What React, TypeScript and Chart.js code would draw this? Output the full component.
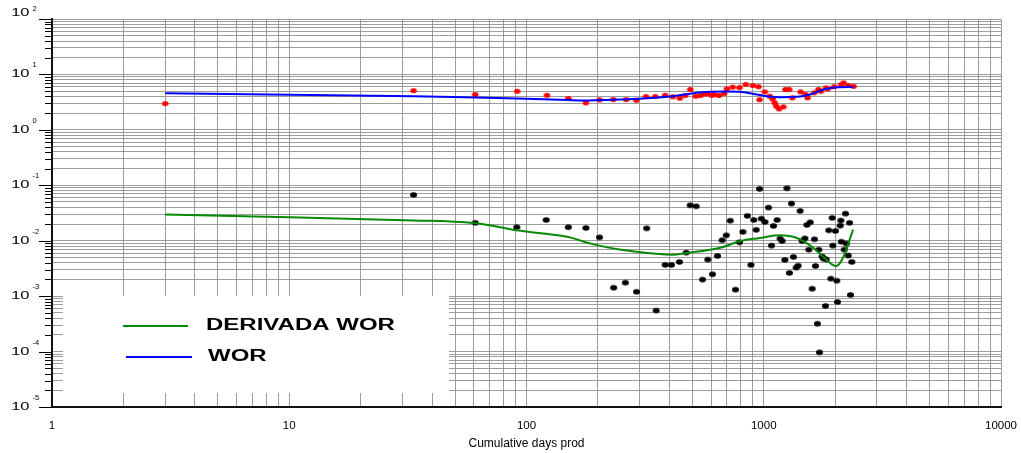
import { useEffect, useRef } from 'react';
import { Chart, registerables } from 'chart.js';

Chart.register(...registerables);

// WOR fitted curve (blue)
const worLineDays = [3, 33.4, 91, 150, 180, 300, 403, 490, 594, 790, 900, 1030, 1172, 1423, 1569, 1785, 2031, 2390];
const worLineValues = [4.58, 4.04, 3.67, 3.45, 3.4, 3.65, 4.0, 4.5, 4.85, 4.85, 4.47, 4.04, 3.88, 3.99, 4.34, 5.34, 5.87, 5.97];

// WOR measured points (red)
const worPointDays = [3, 33.4, 60.8, 91.4, 122, 150, 178, 203, 232, 263, 290, 319, 349, 384, 414, 443, 467, 490, 517, 542, 557, 579, 603, 617, 647, 680, 700, 740, 790, 840, 900, 950, 960, 1010, 1060, 1090, 1112, 1130, 1160, 1210, 1235, 1280, 1320, 1430, 1500, 1530, 1630, 1700, 1740, 1830, 1860, 1980, 2120, 2170, 2270, 2390];
const worPointValues = [2.98, 5.1, 4.34, 4.97, 4.2, 3.67, 3.07, 3.48, 3.52, 3.52, 3.42, 3.99, 3.99, 4.21, 3.95, 3.72, 4.16, 5.34, 4.04, 4.16, 4.46, 4.46, 4.21, 4.33, 4.16, 4.5, 5.5, 5.9, 5.8, 6.6, 6.3, 6.0, 3.5, 4.85, 4.04, 3.6, 3.07, 2.67, 2.39, 2.6, 5.34, 5.34, 3.78, 4.85, 4.34, 3.78, 4.65, 5.34, 4.97, 5.72, 5.5, 6.0, 6.55, 7.05, 6.3, 6.1];

// Derivative of WOR, smoothed curve (green)
const derivLineDays = [3, 33.4, 60.8, 91, 121, 150, 186, 250, 403, 473, 650, 794, 966, 1172, 1380, 1620, 1830, 2024, 2170, 2290, 2380];
const derivLineValues = [0.0296, 0.0232, 0.0207, 0.0154, 0.0133, 0.0117, 0.0089, 0.0069, 0.0056, 0.006, 0.0074, 0.0098, 0.0112, 0.0125, 0.0112, 0.0074, 0.0046, 0.0035, 0.0052, 0.0098, 0.0159];

// Derivative of WOR, raw points (black)
const derivPointDays = [33.4, 60.8, 91, 121, 150, 178, 203, 233, 261, 291, 321, 352, 384, 408, 441, 471, 490, 519, 552, 581, 608, 638, 668, 695, 722, 760, 790, 817, 853, 883, 908, 929, 960, 977, 1011, 1047, 1078, 1099, 1138, 1172, 1195, 1227, 1252, 1283, 1309, 1334, 1370, 1396, 1423, 1452, 1490, 1520, 1549, 1569, 1600, 1636, 1652, 1683, 1706, 1717, 1762, 1785, 1820, 1833, 1880, 1918, 1942, 1954, 2004, 2031, 2045, 2100, 2113, 2124, 2183, 2210, 2232, 2270, 2299, 2320, 2350];
const derivPointValues = [0.0671, 0.021, 0.0175, 0.0237, 0.0175, 0.017, 0.0115, 0.00142, 0.00175, 0.0012, 0.0167, 0.00055, 0.00366, 0.00366, 0.00414, 0.0061, 0.0436, 0.0418, 0.00199, 0.00456, 0.00248, 0.0053, 0.0102, 0.0125, 0.023, 0.00131, 0.00936, 0.0144, 0.028, 0.00366, 0.0237, 0.0157, 0.086, 0.025, 0.0218, 0.0396, 0.00816, 0.0185, 0.0237, 0.0109, 0.0099, 0.0045, 0.0883, 0.00262, 0.0467, 0.0051, 0.00327, 0.00355, 0.0345, 0.0099, 0.011, 0.0193, 0.0069, 0.0215, 0.00136, 0.0106, 0.0035, 0.000318, 0.0069, 0.0000968, 0.0052, 0.00475, 0.000665, 0.0046, 0.0154, 0.00207, 0.0258, 0.00816, 0.015, 0.0019, 0.000785, 0.0187, 0.0231, 0.0096, 0.0069, 0.0308, 0.0089, 0.0054, 0.021, 0.00105, 0.00414];

// Axis ranges (powers of ten)
const xDecades = [0, 4];
const yDecades = [-5, 2];
const xTitle = 'Cumulative days prod';
const derivLabel = 'DERIVADA WOR';
const worLabel = 'WOR';

const zip = (xs: number[], ys: number[]) => xs.map((x, i) => ({ x, y: ys[i] }));

const isDecade = (v: number) => {
  const l = Math.log10(v);
  return Math.abs(l - Math.round(l)) < 1e-9;
};

const logTicks = (lo: number, hi: number) => {
  const out: { value: number; major: boolean }[] = [];
  for (let e = lo; e < hi; e++) {
    for (let m = 1; m < 10; m++) {
      out.push({ value: parseFloat((m * Math.pow(10, e)).toPrecision(6)), major: m === 1 });
    }
  }
  out.push({ value: Math.pow(10, hi), major: true });
  return out;
};

function dotImage(color: string, w: number, h: number) {
  const c = document.createElement('canvas');
  c.width = Math.ceil(w) + 2;
  c.height = Math.ceil(h) + 2;
  const g = c.getContext('2d')!;
  g.fillStyle = color;
  g.beginPath();
  g.ellipse(c.width / 2, c.height / 2, w / 2, h / 2, 0, 0, Math.PI * 2);
  g.fill();
  return c;
}

const FONT = '"Liberation Sans", Arial, sans-serif';

const decorations = {
  id: 'decorations',
  afterDraw(chart: any) {
    const { ctx, chartArea, scales } = chart;
    const ys = scales.y;
    ctx.save();

    // tick marks to the left of the value axis
    ctx.strokeStyle = '#000';
    ctx.lineWidth = 1;
    ys.ticks.forEach((t: any) => {
      const py = Math.round(ys.getPixelForValue(t.value)) + 0.5;
      const len = isDecade(t.value) ? 13 : 7;
      ctx.beginPath();
      ctx.moveTo(chartArea.left - len, py);
      ctx.lineTo(chartArea.left, py);
      ctx.stroke();
    });

    // value axis labels: "10" with a raised exponent
    ctx.fillStyle = '#000';
    ctx.textBaseline = 'middle';
    for (let e = yDecades[0]; e <= yDecades[1]; e++) {
      const lineY = ys.getPixelForValue(Math.pow(10, e));
      const top = e === yDecades[1];
      const py = top ? lineY - 6 : lineY;
      const ey = top ? lineY - 10 : lineY - 9;
      ctx.save();
      ctx.translate(29.5, py);
      ctx.scale(1.5, 1);
      ctx.font = '11px ' + FONT;
      ctx.textAlign = 'right';
      ctx.fillText('10', 0, 0);
      ctx.restore();
      ctx.font = '7.5px ' + FONT;
      ctx.textAlign = 'left';
      ctx.fillText(String(e), 32.5, ey);
    }

    // legend panel
    const bx = 63, by = 296, bw = 386, bh = 97;
    ctx.fillStyle = '#fff';
    ctx.fillRect(bx, by, bw, bh);
    const entries = [
      { label: chart.data.datasets[0].label, color: chart.data.datasets[0].borderColor, x0: 123, x1: 188, tx: 206, y: 326 },
      { label: chart.data.datasets[1].label, color: chart.data.datasets[1].borderColor, x0: 126, x1: 192, tx: 208, y: 357 },
    ];
    entries.forEach((en) => {
      ctx.strokeStyle = en.color;
      ctx.lineWidth = 2;
      ctx.beginPath();
      ctx.moveTo(en.x0, en.y);
      ctx.lineTo(en.x1, en.y);
      ctx.stroke();
      ctx.save();
      ctx.translate(en.tx, en.y);
      ctx.scale(1.5, 1);
      ctx.fillStyle = '#000';
      ctx.font = 'bold 16px ' + FONT;
      ctx.textAlign = 'left';
      ctx.textBaseline = 'middle';
      ctx.fillText(en.label, 0, 0);
      ctx.restore();
    });

    ctx.restore();
  },
};

export default function App() {
  const ref = useRef<HTMLCanvasElement | null>(null);

  useEffect(() => {
    if (!ref.current) return;
    const redDot = dotImage('#ff0000', 6.5, 5);
    const blackDot = dotImage('#000000', 7, 5.6);
    const gridColor = 'rgba(140,140,140,0.85)';

    const chart = new Chart(ref.current, {
      type: 'scatter',
      data: {
        datasets: [
          {
            label: derivLabel,
            data: zip(derivLineDays, derivLineValues),
            showLine: true,
            borderColor: '#058a05',
            borderWidth: 2,
            pointRadius: 0,
            tension: 0.4,
            order: 0,
          },
          {
            label: worLabel,
            data: zip(worLineDays, worLineValues),
            showLine: true,
            borderColor: '#0000ff',
            borderWidth: 2,
            pointRadius: 0,
            tension: 0.3,
            order: 0,
          },
          {
            label: 'WOR data',
            data: zip(worPointDays, worPointValues),
            pointStyle: redDot,
            pointRadius: 3,
            order: 1,
          },
          {
            label: 'Derivative data',
            data: zip(derivPointDays, derivPointValues),
            pointStyle: blackDot,
            pointRadius: 3,
            order: 1,
          },
        ],
      },
      options: {
        responsive: false,
        animation: false,
        events: [],
        layout: { padding: { top: 19, right: 20, left: 0, bottom: 0 } },
        plugins: { legend: { display: false }, tooltip: { enabled: false } },
        scales: {
          x: {
            type: 'logarithmic',
            min: Math.pow(10, xDecades[0]),
            max: Math.pow(10, xDecades[1]),
            afterBuildTicks: (s: any) => {
              s.ticks = logTicks(xDecades[0], xDecades[1]);
            },
            afterFit: (s: any) => {
              s.height = 46;
              s.paddingLeft = 0;
              s.paddingRight = 0;
            },
            grid: { color: gridColor, lineWidth: 1, drawTicks: false },
            border: { color: '#111', width: 2 },
            ticks: {
              autoSkip: false,
              maxRotation: 0,
              padding: 12,
              color: '#000',
              font: { family: FONT, size: 11.5 },
              callback: (v: any) => (isDecade(Number(v)) ? String(Math.round(Number(v))) : ''),
            },
            title: {
              display: true,
              text: xTitle,
              color: '#000',
              font: { family: FONT, size: 12 },
              padding: { top: 0, bottom: 2 },
            },
          },
          y: {
            type: 'logarithmic',
            min: Math.pow(10, yDecades[0]),
            max: Math.pow(10, yDecades[1]),
            afterBuildTicks: (s: any) => {
              s.ticks = logTicks(yDecades[0], yDecades[1]);
            },
            afterFit: (s: any) => {
              s.width = 52;
            },
            grid: { color: gridColor, lineWidth: 1, drawTicks: false },
            border: { color: '#111', width: 2 },
            ticks: { display: false, autoSkip: false },
          },
        },
      },
      plugins: [decorations],
    });
    return () => chart.destroy();
  }, []);

  return (
    <div style={{ position: 'absolute', left: 0, top: 0, width: 1021, height: 453, background: '#fff' }}>
      <canvas ref={ref} width={1021} height={453} style={{ display: 'block' }} />
    </div>
  );
}
